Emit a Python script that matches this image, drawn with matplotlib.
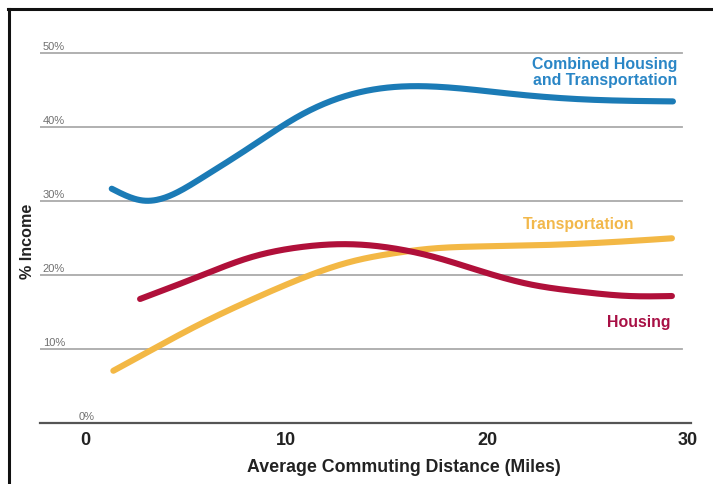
import numpy as np
import matplotlib
matplotlib.use("Agg")
import matplotlib.pyplot as plt
from matplotlib.lines import Line2D

# Share of income vs. average commuting distance (miles)
combined_x = [1.33, 2.89, 5.72, 8.21, 10.70, 13.18, 15.67, 18.0, 21.3, 24.6, 29.25]
combined_y = [31.7, 30.1, 33.0, 37.3, 41.6, 44.4, 45.5, 45.4, 44.5, 43.8, 43.5]

housing_x = [2.74, 5.72, 8.21, 10.7, 13.18, 15.67, 17.2, 19.65, 22.1, 24.6, 27.1, 29.2]
housing_y = [16.8, 19.9, 22.4, 23.8, 24.2, 23.5, 22.6, 20.6, 18.8, 17.8, 17.2, 17.2]

transport_x = [1.41, 3.23, 5.72, 8.21, 10.7, 13.18, 15.67, 17.2, 19.65, 22.97, 26.3, 29.2]
transport_y = [7.1, 9.8, 13.4, 16.6, 19.5, 21.8, 23.1, 23.6, 23.9, 24.1, 24.5, 25.0]

x_ticks = [0, 10, 20, 30]
y_ticks = [0, 10, 20, 30, 40, 50]
y_tick_labels = ["0%", "10%", "20%", "30%", "40%", "50%"]

BLUE = "#1b7bb6"
RED = "#b0103a"
GOLD = "#f3b845"

W, H = 713, 485


def fx(px):
    return px / W


def fy(py):
    return 1 - py / H


def natural_spline(xs, ys, n=400):
    """Natural cubic spline through the points, sampled densely for drawing."""
    x = np.asarray(xs, float)
    y = np.asarray(ys, float)
    m = len(x)
    h = np.diff(x)
    A = np.zeros((m, m))
    b = np.zeros(m)
    A[0, 0] = A[-1, -1] = 1.0
    for i in range(1, m - 1):
        A[i, i - 1] = h[i - 1]
        A[i, i] = 2 * (h[i - 1] + h[i])
        A[i, i + 1] = h[i]
        b[i] = 3 * ((y[i + 1] - y[i]) / h[i] - (y[i] - y[i - 1]) / h[i - 1])
    c = np.linalg.solve(A, b)
    bb = (y[1:] - y[:-1]) / h - h * (2 * c[:-1] + c[1:]) / 3
    d = (c[1:] - c[:-1]) / (3 * h)
    xx = np.linspace(x[0], x[-1], n)
    idx = np.clip(np.searchsorted(x, xx) - 1, 0, m - 2)
    t = xx - x[idx]
    yy = y[idx] + bb[idx] * t + c[idx] * t ** 2 + d[idx] * t ** 3
    return xx, yy


fig = plt.figure(figsize=(W / 100, H / 100), dpi=100)
fig.patch.set_facecolor("white")

# axes area: x from 40 px to 691 px, y from 40 px to 424.3 px (0%)
ax_left, ax_right = 40, 691
ax_top, ax_bottom = 40, 424.3
ax = fig.add_axes([fx(ax_left), fy(ax_bottom), (ax_right - ax_left) / W, (ax_bottom - ax_top) / H])
px_per_mile = 20.1
x0_px = 85
ax.set_xlim((ax_left - x0_px) / px_per_mile, (ax_right - x0_px) / px_per_mile)
ax.set_ylim(0, (ax_bottom - ax_top) / 7.4)
ax.axis("off")

grid_end = (682 - ax_left) / (ax_right - ax_left)
for v in y_ticks[1:]:
    ax.axhline(v, xmin=0, xmax=grid_end, color="#aaaaaa", lw=1.3, zorder=1)
ax.axhline(0, xmin=0, xmax=1, color="#555555", lw=1.6, zorder=1, clip_on=False)

narrow = ["Liberation Sans Narrow", "Liberation Sans", "DejaVu Sans"]
for v, lab in zip(y_ticks, y_tick_labels):
    xpos = -2.1 if v > 0 else -0.3
    ax.annotate(lab, xy=(xpos, v), xytext=(0, 1.5), textcoords="offset points",
                ha="left", va="bottom", fontsize=8, color="#707070",
                family=narrow, annotation_clip=False)

for series_x, series_y, col in [(transport_x, transport_y, GOLD),
                                (housing_x, housing_y, RED),
                                (combined_x, combined_y, BLUE)]:
    sx, sy = natural_spline(series_x, series_y)
    ax.plot(sx, sy, color=col, lw=4.4, solid_capstyle="round", zorder=3)

bold = dict(family=["Liberation Sans", "DejaVu Sans"], fontweight="bold")

for t in x_ticks:
    ax.text(t, -2.15, str(t), ha="center", va="center", fontsize=13,
            color="#222222", **bold)

fig.text(fx(404), fy(468), "Average Commuting Distance (Miles)", ha="center",
         va="center", fontsize=12.8, color="#222222", **bold)
fig.text(fx(28), fy(241), "% Income", ha="center", va="center", rotation=90,
         fontsize=11.6, color="#222222", **bold)

fig.text(fx(677), fy(57.5), "Combined Housing\nand Transportation", ha="right",
         va="top", fontsize=11.4, color="#2a86c6", linespacing=1.0, **bold)
fig.text(fx(634), fy(224), "Transportation", ha="right", va="center",
         fontsize=11.4, color="#f2b84b", **bold)
fig.text(fx(670), fy(323), "Housing", ha="right", va="center",
         fontsize=11.4, color="#a81045", **bold)

# frame edges along the top and left
fig.add_artist(Line2D([fx(8), 1.0], [fy(9.5), fy(9.5)], color="#111111", lw=2.2,
                      transform=fig.transFigure))
fig.add_artist(Line2D([fx(8.5), fx(8.5)], [fy(9.5), 0.0], color="#111111", lw=2.2,
                      transform=fig.transFigure))

fig.savefig("out.png", dpi=100, facecolor="white")
